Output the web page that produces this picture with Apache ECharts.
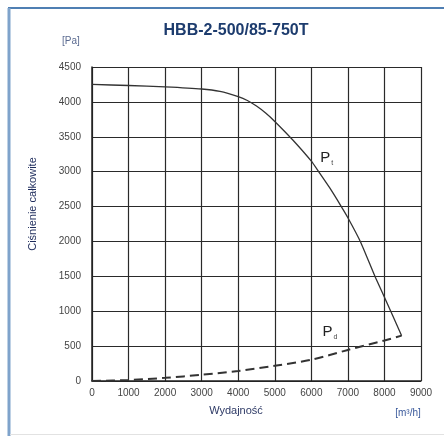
<!DOCTYPE html>
<html>
<head>
<meta charset="utf-8">
<script src="https://cdn.jsdelivr.net/npm/echarts@6/dist/echarts.min.js"></script>
<style>
  html, body { margin: 0; padding: 0; background: #fff; }
  #chart { width: 444px; height: 436px; }
</style>
</head>
<body>
<div id="chart"></div>
<script>
// total pressure curve [flow m3/h, Pa]
var ptData = [[0, 4250], [1000, 4235], [2000, 4215], [3000, 4185], [3500, 4150], [4000, 4075],
  [4250, 4020], [4500, 3940], [4750, 3840], [5000, 3720], [5500, 3450], [6000, 3150],
  [6200, 3000], [6500, 2770], [6820, 2500], [7000, 2340], [7340, 2000], [7740, 1500],
  [8000, 1200], [8470, 650]];
// dynamic pressure curve
var pdData = [[0, 0], [1000, 15], [2000, 45], [3000, 90], [4000, 143], [5000, 218],
  [6000, 305], [7000, 445], [8000, 580], [8470, 650]];
var xTicks = [0, 1000, 2000, 3000, 4000, 5000, 6000, 7000, 8000, 9000];
var yTicks = [0, 500, 1000, 1500, 2000, 2500, 3000, 3500, 4000, 4500];

var myChart = echarts.init(document.getElementById('chart'));

var gridLine = { color: '#2a2a2a', width: 1.2 };
var tickLabel = { color: '#444', fontSize: 10, fontFamily: 'Liberation Sans, Arial',
  formatter: function (v) { return String(v); } };

function curveLabel(sub) {
  return {
    show: true, position: 'inside', formatter: '{p|P}{s|' + sub + '}',
    rich: { p: { fontSize: 15, color: '#222', fontFamily: 'Liberation Sans, Arial' },
            s: { fontSize: 7, color: '#444', padding: [10, 0, 0, 1] } }
  };
}

var option = {
  backgroundColor: '#fff',
  animation: false,
  title: {
    text: 'HBB-2-500/85-750T',
    left: 231, top: 18, textAlign: 'center',
    textStyle: { color: '#1d3c6e', fontSize: 16, fontWeight: 'bold', fontFamily: 'Liberation Sans, Arial' }
  },
  grid: { left: 92, right: 23, top: 67, bottom: 55 },
  xAxis: {
    type: 'value', min: xTicks[0], max: xTicks[xTicks.length - 1], interval: 1000,
    axisLine: { lineStyle: { color: '#222', width: 1.5 } },
    axisTick: { show: false },
    axisLabel: Object.assign({ margin: 7 }, tickLabel),
    splitLine: { show: true, lineStyle: gridLine }
  },
  yAxis: {
    type: 'value', min: yTicks[0], max: yTicks[yTicks.length - 1], interval: 500,
    axisLine: { show: true, lineStyle: { color: '#222', width: 1.5 } },
    axisTick: { show: false },
    axisLabel: Object.assign({ margin: 11 }, tickLabel),
    splitLine: { show: true, lineStyle: gridLine }
  },
  graphic: [
    { type: 'line', shape: { x1: 8, y1: 8, x2: 444, y2: 8 }, style: { stroke: '#4f7fb3', lineWidth: 2 } },
    { type: 'line', shape: { x1: 9, y1: 8, x2: 9, y2: 436 }, style: { stroke: '#7fa3cb', lineWidth: 3 } },
    { type: 'line', shape: { x1: 10, y1: 434.5, x2: 444, y2: 434.5 }, style: { stroke: '#e2e2e2', lineWidth: 1 } },
    { type: 'text', left: 62, top: 36, style: { text: '[Pa]', fill: '#5a6a90', fontSize: 10, fontFamily: 'Liberation Sans, Arial' } },
    { type: 'text', x: 33, y: 204, rotation: Math.PI / 2,
      style: { text: 'Ciśnienie całkowite', fill: '#1e2c5c', fontSize: 11, fontFamily: 'Liberation Sans, Arial',
        textAlign: 'center', textVerticalAlign: 'middle' } },
    { type: 'text', x: 236, y: 411,
      style: { text: 'Wydajność', fill: '#2e3a66', fontSize: 11, fontFamily: 'Liberation Sans, Arial',
        textAlign: 'center', textVerticalAlign: 'middle' } },
    { type: 'text', x: 408, y: 413,
      style: { text: '[m³/h]', fill: '#3b5a9c', fontSize: 10, fontFamily: 'Liberation Sans, Arial',
        textAlign: 'center', textVerticalAlign: 'middle' } }
  ],
  series: [
    {
      name: 'Pt', type: 'line', data: ptData, smooth: 0.2, showSymbol: false,
      lineStyle: { color: '#333', width: 1.3 },
      markPoint: {
        symbol: 'circle', symbolSize: 1, itemStyle: { color: 'rgba(0,0,0,0)' },
        data: [{ coord: [6420, 3200] }],
        label: curveLabel('t')
      },
      z: 3
    },
    {
      name: 'Pd', type: 'line', data: pdData, smooth: 0.3, showSymbol: false,
      lineStyle: { color: '#333', width: 2, type: [9, 5] },
      markPoint: {
        symbol: 'circle', symbolSize: 1, itemStyle: { color: 'rgba(0,0,0,0)' },
        data: [{ coord: [6510, 700] }],
        label: curveLabel('d')
      },
      z: 3
    }
  ]
};
myChart.setOption(option, true);
</script>
</body>
</html>
